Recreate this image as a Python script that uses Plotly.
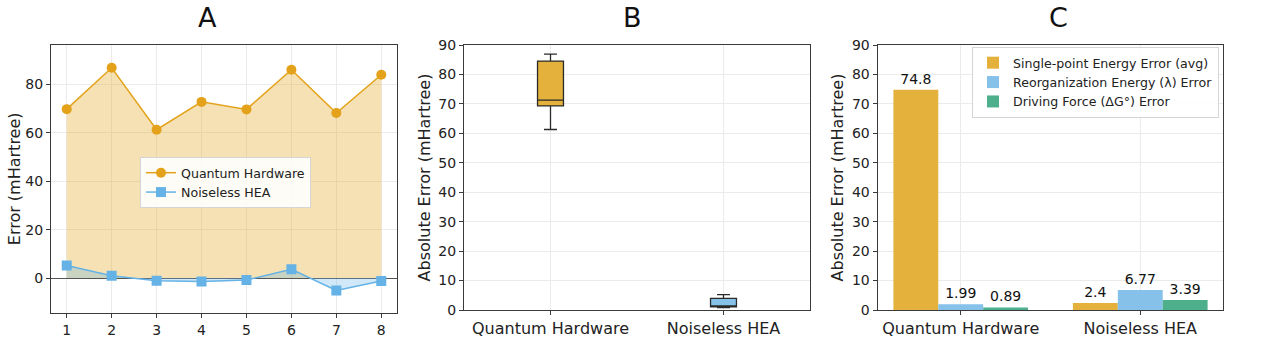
import numpy as np
import plotly.graph_objects as go

# ---- data -------------------------------------------------------------
runs = [1, 2, 3, 4, 5, 6, 7, 8]
hardware_err = [69.8, 86.9, 61.3, 72.8, 69.7, 86.1, 68.2, 84.0]
noiseless_err = [5.2, 1.0, -1.1, -1.4, -0.8, 3.6, -5.1, -1.2]

methods = ["Quantum Hardware", "Noiseless HEA"]
spe_err = [74.8, 2.4]          # single-point energy error (avg)
reorg_err = [1.99, 6.77]       # reorganization energy error
dg_err = [0.89, 3.39]          # driving force error

panel_titles = ["A", "B", "C"]

# ---- styling -----------------------------------------------------------
W, H = 1265, 345
FONT = "DejaVu Sans"
GOLD_LINE = "#E3A21A"
GOLD_BAR = "#E3B13C"
BLUE_LINE = "#64B2E6"
BLUE_BAR = "#85C1E9"
GREEN_BAR = "#4DAF8C"
GRID = "#EBEBEB"
FRAME = "#3a3a3a"


def px_x(a, b):
    return [a / W, b / W]


def px_y(top, bottom):
    return [(H - bottom) / H, (H - top) / H]


fig = go.Figure()

# ---- panel A: per-run errors ------------------------------------------
# shaded areas between each series and zero (kept out of the legend)
fig.add_trace(go.Scatter(
    x=runs, y=hardware_err, mode="none", fill="tozeroy",
    fillcolor="rgba(226,170,40,0.35)", showlegend=False, hoverinfo="skip",
    xaxis="x", yaxis="y"))
fig.add_trace(go.Scatter(
    x=runs, y=noiseless_err, mode="none", fill="tozeroy",
    fillcolor="rgba(100,178,230,0.3)", showlegend=False, hoverinfo="skip",
    xaxis="x", yaxis="y"))
fig.add_trace(go.Scatter(
    x=runs, y=hardware_err, name="Quantum Hardware", mode="lines+markers",
    line=dict(color=GOLD_LINE, width=1.5),
    marker=dict(symbol="circle", size=10, color=GOLD_LINE),
    xaxis="x", yaxis="y", legend="legend"))
fig.add_trace(go.Scatter(
    x=runs, y=noiseless_err, name="Noiseless HEA", mode="lines+markers",
    line=dict(color=BLUE_LINE, width=1.5),
    marker=dict(symbol="square", size=10, color=BLUE_LINE),
    xaxis="x", yaxis="y", legend="legend"))

# ---- panel B: distribution of absolute errors ---------------------------
abs_sets = [np.abs(hardware_err), np.abs(noiseless_err)]
box_fill = [GOLD_BAR, BLUE_BAR]
for name, vals, col in zip(methods, abs_sets, box_fill):
    q1, med, q3 = np.percentile(vals, [25, 50, 75])
    iqr = q3 - q1
    lo = vals[vals >= q1 - 1.5 * iqr].min()
    hi = vals[vals <= q3 + 1.5 * iqr].max()
    fig.add_trace(go.Box(
        x=[name], q1=[q1], median=[med], q3=[q3],
        lowerfence=[lo], upperfence=[hi], width=0.15,
        fillcolor=col, line=dict(color="#2a2a2a", width=1.3),
        whiskerwidth=0.5, showlegend=False,
        xaxis="x2", yaxis="y2"))

# ---- panel C: grouped error summary -----------------------------------
for name, vals, col in [
    ("Single-point Energy Error (avg)", spe_err, GOLD_BAR),
    ("Reorganization Energy (λ) Error", reorg_err, BLUE_BAR),
    ("Driving Force (ΔG°) Error", dg_err, GREEN_BAR),
]:
    fig.add_trace(go.Bar(
        x=methods, y=vals, name=name, marker=dict(color=col, line=dict(width=0)),
        text=[str(v) for v in vals], textposition="outside",
        textfont=dict(size=14, color="#111111"), cliponaxis=False,
        xaxis="x3", yaxis="y3", legend="legend2"))

# ---- axes ----------------------------------------------------------------
common = dict(showline=True, mirror=True, linecolor=FRAME, linewidth=1.3,
              gridcolor=GRID, gridwidth=1, ticks="outside", ticklen=4,
              tickcolor=FRAME, automargin=False,
              tickfont=dict(size=14, color="#222222"))
cat_ticks = {**common, "tickfont": dict(size=16, color="#222222")}

fig.update_layout(
    width=W, height=H, margin=dict(l=0, r=0, t=0, b=0),
    paper_bgcolor="white", plot_bgcolor="white",
    font=dict(family=FONT, color="#222222"),
    barmode="group", bargap=0.25, bargroupgap=0,
    xaxis=dict(domain=px_x(51, 397), range=[0.65, 8.35], tickvals=runs,
               zeroline=False, **common),
    yaxis=dict(domain=px_y(45, 312.7), range=[-14.3, 96.3],
               tickvals=[0, 20, 40, 60, 80], zeroline=True,
               zerolinecolor="#555555", zerolinewidth=1.2,
               title=dict(text="Error (mHartree)", font=dict(size=16), standoff=0),
               **common),
    xaxis2=dict(domain=px_x(464, 810), range=[-0.5, 1.5], anchor="y2",
                zeroline=False, **cat_ticks),
    yaxis2=dict(domain=px_y(45, 310), range=[0, 90], dtick=10, anchor="x2",
                zeroline=False,
                title=dict(text="Absolute Error (mHartree)", font=dict(size=16), standoff=3),
                **common),
    xaxis3=dict(domain=px_x(877.7, 1223.3), range=[-0.4625, 1.4625], anchor="y3",
                zeroline=False, **cat_ticks),
    yaxis3=dict(domain=px_y(45, 310), range=[0, 90], dtick=10, anchor="x3",
                zeroline=False,
                title=dict(text="Absolute Error (mHartree)", font=dict(size=16), standoff=4),
                **common),
    legend=dict(x=140 / W, y=1 - 157 / H, xanchor="left", yanchor="top",
                bgcolor="rgba(255,255,255,0.88)", bordercolor="#d5d5d5",
                borderwidth=1, font=dict(size=12.6), tracegroupgap=0),
    legend2=dict(x=972 / W, y=1 - 47 / H, xanchor="left", yanchor="top",
                 bgcolor="rgba(255,255,255,0.88)", bordercolor="#d5d5d5",
                 borderwidth=1, font=dict(size=12.6), tracegroupgap=0),
)

for label, xc in zip(panel_titles, [207, 632, 1058]):
    fig.add_annotation(text=label, x=xc / W, y=1.0, xref="paper",
                       yref="paper", xanchor="center", yanchor="top",
                       showarrow=False, font=dict(size=27, color="#111111"))

fig.write_html("out.html")
